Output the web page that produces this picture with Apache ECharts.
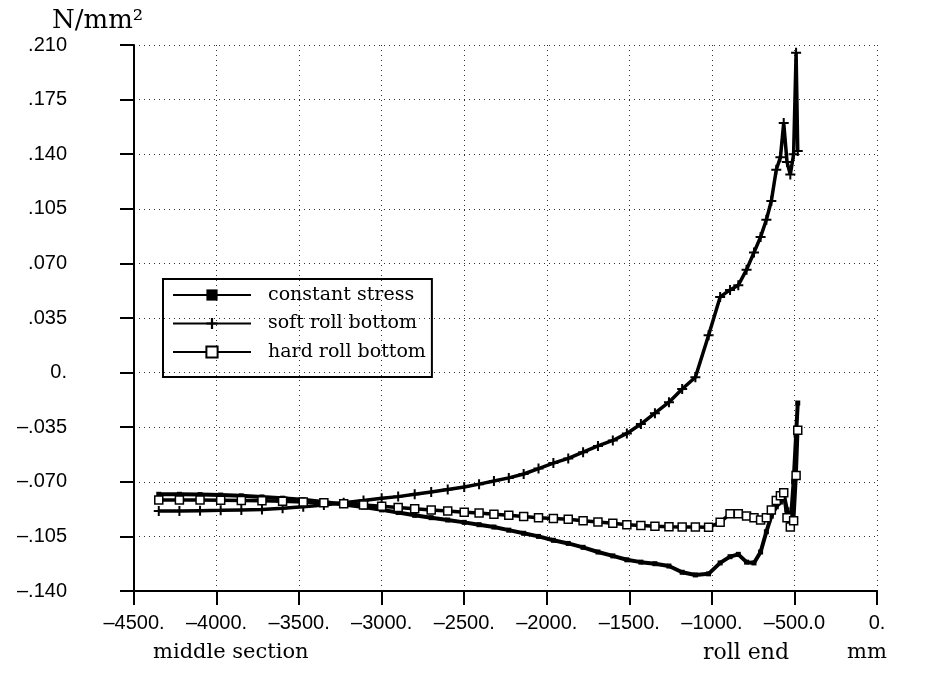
<!DOCTYPE html>
<html>
<head>
<meta charset="utf-8">
<script src="https://cdn.jsdelivr.net/npm/echarts@6/dist/echarts.min.js"></script>
<style>
html, body { margin: 0; padding: 0; background: #fff; }
#chart { width: 934px; height: 673px; }
</style>
</head>
<body>
<div id="chart"></div>
<script>
// mesh positions along the roll (mm), shared by the three curves
const positions = [-4350, -4225, -4100, -3975, -3850, -3725, -3600, -3475, -3350, -3230,
  -3110, -3000, -2900, -2800, -2700, -2600, -2500, -2410, -2320, -2230,
  -2140, -2050, -1960, -1870, -1780, -1690, -1600, -1515, -1430, -1345,
  -1260, -1180, -1100, -1020, -950, -890, -840, -790, -745, -705,
  -670, -640, -610, -585, -565, -545, -525, -505, -490, -480];

const constantStress = [-0.0780, -0.0780, -0.0782, -0.0785, -0.0790, -0.0797, -0.0805, -0.0815, -0.0830, -0.0845,
  -0.0862, -0.0880, -0.0897, -0.0915, -0.0930, -0.0945, -0.0960, -0.0975, -0.0990, -0.1010,
  -0.1030, -0.1050, -0.1075, -0.1095, -0.1120, -0.1150, -0.1175, -0.1200, -0.1215, -0.1225,
  -0.1240, -0.1280, -0.1297, -0.1290, -0.1220, -0.1180, -0.1165, -0.1215, -0.1220, -0.1150,
  -0.1020, -0.0920, -0.0860, -0.0830, -0.0780, -0.0880, -0.0990, -0.0700, -0.0400, -0.0195];

const softRollBottom = [-0.0887, -0.0887, -0.0885, -0.0883, -0.0880, -0.0877, -0.0870, -0.0860, -0.0848, -0.0835,
  -0.0820, -0.0805, -0.0795, -0.0780, -0.0765, -0.0750, -0.0733, -0.0715, -0.0695, -0.0675,
  -0.0650, -0.0615, -0.0580, -0.0550, -0.0510, -0.0470, -0.0435, -0.0390, -0.0330, -0.0260,
  -0.0190, -0.0105, -0.0030, 0.0240, 0.0485, 0.0530, 0.0560, 0.0660, 0.0770, 0.0870,
  0.0980, 0.1100, 0.1300, 0.1380, 0.1600, 0.1350, 0.1270, 0.1400, 0.2050, 0.1420];

const hardRollBottom = [-0.0817, -0.0817, -0.0817, -0.0818, -0.0820, -0.0822, -0.0825, -0.0830, -0.0835, -0.0840,
  -0.0848, -0.0857, -0.0865, -0.0872, -0.0880, -0.0887, -0.0895, -0.0900, -0.0908, -0.0915,
  -0.0922, -0.0930, -0.0935, -0.0940, -0.0950, -0.0958, -0.0965, -0.0975, -0.0980, -0.0985,
  -0.0988, -0.0990, -0.0990, -0.0992, -0.0960, -0.0905, -0.0905, -0.0920, -0.0930, -0.0945,
  -0.0930, -0.0880, -0.0820, -0.0790, -0.0770, -0.0930, -0.0990, -0.0950, -0.0660, -0.0370];

const seriesNames = ['constant stress', 'soft roll bottom', 'hard roll bottom'];

const xTickLabels = ['\u20134500.', '\u20134000.', '\u20133500.', '\u20133000.', '\u20132500.',
  '\u20132000.', '\u20131500.', '\u20131000.', '\u2013500.0', '0.'];
const yTickLabels = ['\u2013.140', '\u2013.105', '\u2013.070', '\u2013.035', '0.',
  '.035', '.070', '.105', '.140', '.175', '.210'];

const xMin = -4500, xStep = 500;
const yMin = -0.140, yStep = 0.035;

const pairs = ys => positions.map((x, i) => [x, ys[i]]);

const plusPath = 'path://M4,0H6V4H10V6H6V10H4V6H0V4H4Z';
const labelFont = "'Liberation Sans', Arial, sans-serif";
const serifFont = "'DejaVu Serif', serif";

let chart = echarts.init(document.getElementById('chart'));
let option = {
  backgroundColor: '#fff',
  animation: false,
  grid: { left: 134, right: 57, top: 45, bottom: 82 },
  legend: {
    left: 163,
    top: 279,
    orient: 'vertical',
    borderColor: '#000',
    borderWidth: 2,
    padding: [5, 6, 14, 9],
    itemWidth: 78,
    itemHeight: 14,
    itemGap: 6.5,
    textStyle: { fontFamily: serifFont, fontSize: 19, lineHeight: 22, color: '#000', padding: [0, 0, 0, 12] },
    data: seriesNames
  },
  xAxis: {
    type: 'value',
    min: xMin,
    max: 0,
    interval: xStep,
    axisLine: { show: true, onZero: false, lineStyle: { color: '#000', width: 2 } },
    axisTick: { show: true, length: 14, lineStyle: { color: '#000', width: 2 } },
    axisLabel: {
      interval: 0,
      hideOverlap: false,
      margin: 22,
      color: '#000',
      fontFamily: labelFont,
      fontSize: 20,
      formatter: v => xTickLabels[Math.round((v - xMin) / xStep)]
    },
    splitLine: { show: true, lineStyle: { color: '#333', width: 1, type: [1, 4] } }
  },
  yAxis: {
    type: 'value',
    min: yMin,
    max: 0.210,
    interval: yStep,
    axisLine: { show: true, onZero: false, lineStyle: { color: '#000', width: 2 } },
    axisTick: { show: true, length: 14, lineStyle: { color: '#000', width: 2 } },
    axisLabel: {
      margin: 67,
      color: '#000',
      fontFamily: labelFont,
      fontSize: 20,
      align: 'right',
      formatter: v => yTickLabels[Math.round((v - yMin) / yStep)]
    },
    splitLine: { show: true, lineStyle: { color: '#333', width: 1, type: [1, 4] } }
  },
  graphic: [
    { type: 'text', left: 52, top: 8, style: { text: 'N/mm\u00b2', font: "26px 'DejaVu Serif', serif", fill: '#000' } },
    { type: 'text', left: 153, top: 642, style: { text: 'middle section', font: "21px 'DejaVu Serif', serif", fill: '#000' } },
    { type: 'text', left: 703, top: 642, style: { text: 'roll end', font: "22px 'DejaVu Serif', serif", fill: '#000' } },
    { type: 'text', left: 847, top: 642, style: { text: 'mm', font: "21px 'DejaVu Serif', serif", fill: '#000' } }
  ],
  series: [
    {
      name: seriesNames[0],
      type: 'line',
      data: pairs(constantStress),
      symbol: 'rect',
      symbolSize: 5,
      lineStyle: { color: '#000', width: 4 },
      itemStyle: { color: '#000' },
      z: 3
    },
    {
      name: seriesNames[1],
      type: 'line',
      data: pairs(softRollBottom),
      symbol: plusPath,
      symbolSize: 10,
      lineStyle: { color: '#000', width: 3.5 },
      itemStyle: { color: '#000' },
      z: 4
    },
    {
      name: seriesNames[2],
      type: 'line',
      data: pairs(hardRollBottom),
      symbol: 'rect',
      symbolSize: 8,
      lineStyle: { color: '#000', width: 3.5 },
      itemStyle: { color: '#fff', borderColor: '#000', borderWidth: 1.5 },
      z: 5
    }
  ]
};
option && chart.setOption(option);
</script>
</body>
</html>
